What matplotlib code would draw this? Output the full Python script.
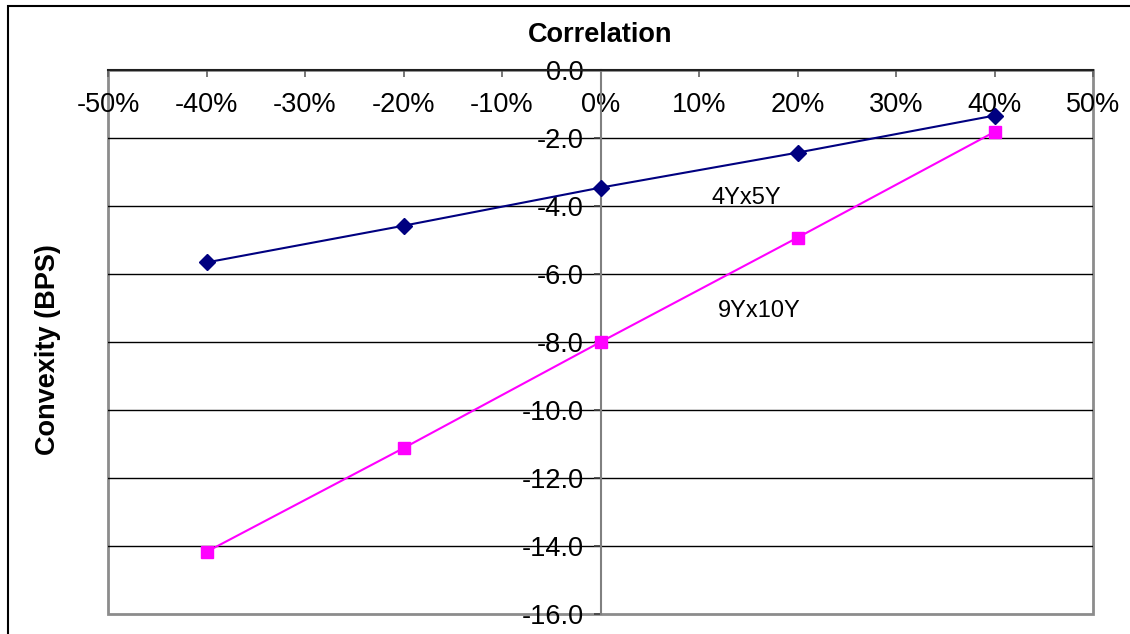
import numpy as np
import matplotlib.pyplot as plt
from matplotlib.patches import Rectangle

plt.rcParams['font.family'] = ['Liberation Sans', 'DejaVu Sans']
plt.rcParams['axes.unicode_minus'] = False

# correlation (%) vs convexity (bps)
correlation = [-40, -20, 0, 20, 40]
conv_4y5y = [-5.66, -4.58, -3.46, -2.43, -1.34]
conv_9y10y = [-14.17, -11.12, -8.0, -4.93, -1.82]

x_ticks = [-50, -40, -30, -20, -10, 0, 10, 20, 30, 40, 50]
y_ticks = [0, -2, -4, -6, -8, -10, -12, -14, -16]

fig = plt.figure(figsize=(11.3, 6.34), dpi=100)
ax = fig.add_axes([0.0956, 0.0315, 0.8717, 0.8581])

ax.plot(correlation, conv_4y5y, color='#000080', lw=1.5, marker='D', ms=8.5,
        zorder=3, clip_on=False)
ax.plot(correlation, conv_9y10y, color='#FF00FF', lw=1.5, marker='s', ms=8.5,
        zorder=3, clip_on=False)

ax.set_xlim(-50, 50)
ax.set_ylim(-16, 0)

# horizontal gridlines
for y in y_ticks[1:-1]:
    ax.axhline(y, color='black', lw=1, zorder=1)

# category axis sits at y = 0 (top), value axis at x = 0
ax.spines['bottom'].set_position(('data', 0))
ax.spines['bottom'].set_color('#202020')
ax.spines['bottom'].set_linewidth(1.5)
ax.spines['left'].set_position(('data', 0))
ax.spines['left'].set_color('#808080')
ax.spines['left'].set_linewidth(1.5)
ax.spines['top'].set_visible(False)
ax.spines['right'].set_visible(False)

# grey plot-area border
ax.add_patch(Rectangle((0, 0), 1, 1, transform=ax.transAxes, fill=False,
                       edgecolor='#8c8c8c', lw=2, zorder=0.5, clip_on=False))

ax.set_xticks(x_ticks)
ax.set_xticklabels([f'{v}%' for v in x_ticks])
ax.set_yticks(y_ticks)
ax.set_yticklabels([f'{v:.1f}' for v in y_ticks])
ax.tick_params(axis='x', direction='out', length=5, width=1.2, color='#606060',
               labelsize=19.5, pad=11)
ax.tick_params(axis='y', direction='out', length=5, width=1.2, color='#404040',
               labelsize=19.5, pad=7)

ax.text(11.3, -3.76, '4Yx5Y', fontsize=17, va='center', ha='left')
ax.text(11.9, -7.09, '9Yx10Y', fontsize=17, va='center', ha='left')

fig.text(0.531, 0.945, 'Correlation', fontsize=19.5, fontweight='bold',
         ha='center', va='center')
fig.text(0.0425, 0.448, 'Convexity (BPS)', fontsize=19.5, fontweight='bold',
         rotation=90, ha='center', va='center')

# chart border
fig.patches.append(Rectangle((8 / 1130, -0.1), 1.2, 1.1 - 6 / 634,
                             transform=fig.transFigure, fill=False,
                             edgecolor='black', lw=1.5))

fig.savefig('out.png', dpi=100)
